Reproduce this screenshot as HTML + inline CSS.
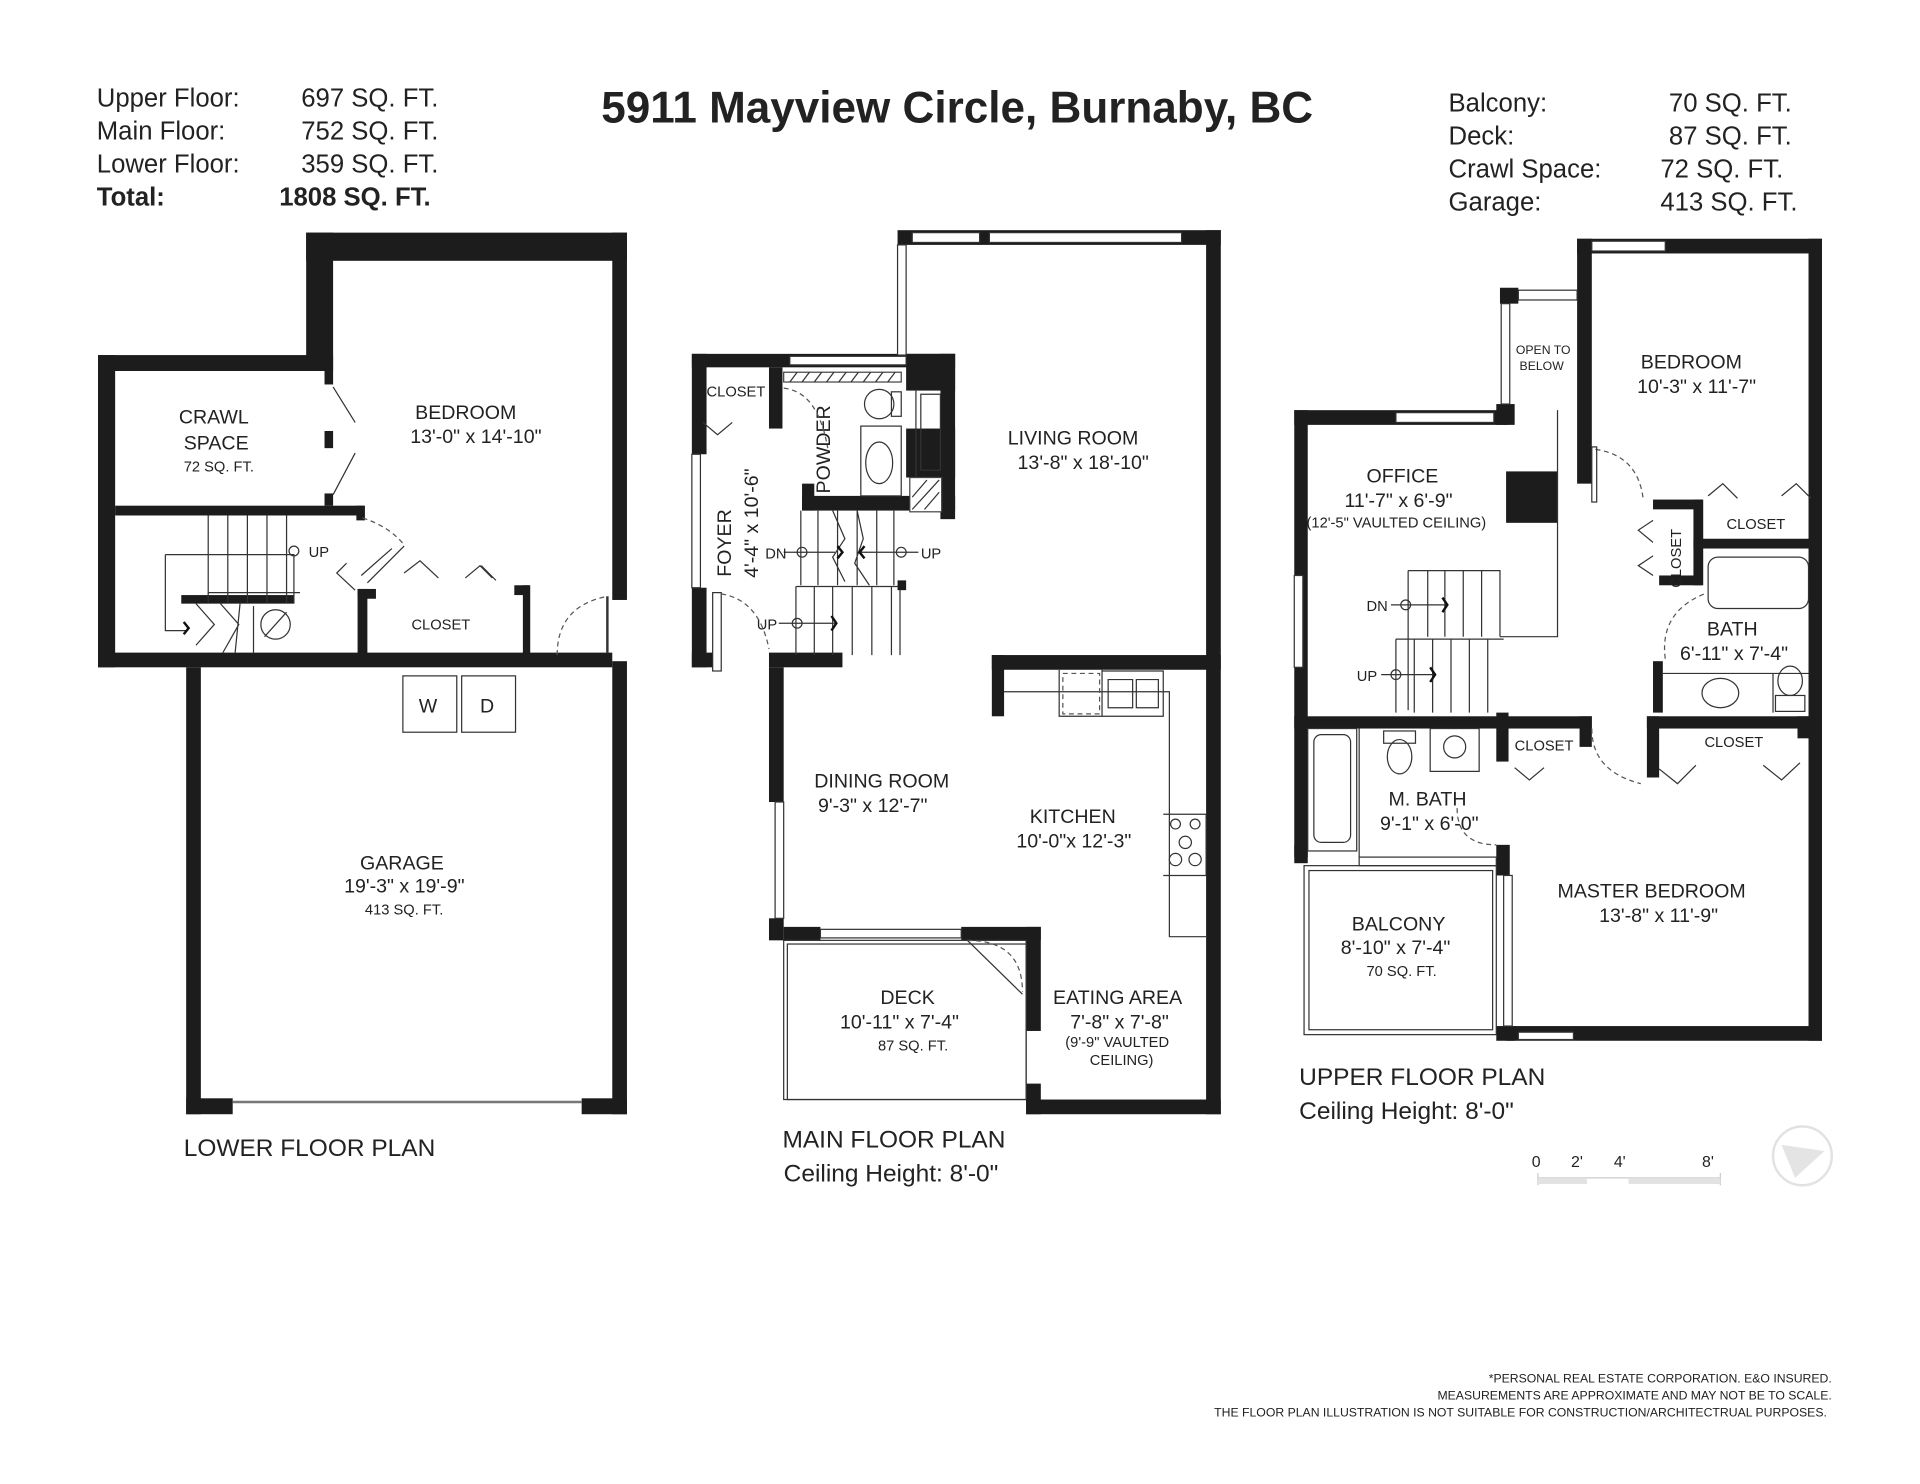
<!DOCTYPE html>
<html><head><meta charset="utf-8"><style>
html,body{margin:0;padding:0;background:#fff;}
svg{display:block}
text{font-family:"Liberation Sans",sans-serif;fill:#222;}
.t{font-size:16px}
.s{font-size:12px}
.k{fill:#1c1c1c}
.thin{fill:none;stroke:#333;stroke-width:1}
.win{fill:#fff;stroke:#333;stroke-width:1}
.dash{fill:none;stroke:#555;stroke-width:1;stroke-dasharray:4 3}
</style></head><body>
<svg width="1920" height="1484" viewBox="0 0 1568 1212" xmlns="http://www.w3.org/2000/svg">
<rect width="1568" height="1212" fill="#fff"/>
<g font-size="21">
<text x="79" y="87">Upper Floor:</text><text x="246" y="87">697 SQ. FT.</text>
<text x="79" y="114">Main Floor:</text><text x="246" y="114">752 SQ. FT.</text>
<text x="79" y="141">Lower Floor:</text><text x="246" y="141">359 SQ. FT.</text>
<text x="79" y="168" font-weight="bold">Total:</text><text x="228" y="168" font-weight="bold">1808 SQ. FT.</text>
<text x="1183" y="91">Balcony:</text><text x="1363" y="91">70 SQ. FT.</text>
<text x="1183" y="118">Deck:</text><text x="1363" y="118">87 SQ. FT.</text>
<text x="1183" y="145">Crawl Space:</text><text x="1356" y="145">72 SQ. FT.</text>
<text x="1183" y="172">Garage:</text><text x="1356" y="172">413 SQ. FT.</text>
</g>
<text x="491" y="100" font-size="36" font-weight="bold">5911 Mayview Circle, Burnaby, BC</text>

<!-- ===== LOWER FLOOR ===== -->
<g class="k">
<rect x="250" y="190" width="262" height="23"/>
<rect x="250" y="190" width="22" height="112"/>
<rect x="80" y="290" width="192" height="13"/>
<rect x="80" y="290" width="14" height="255"/>
<rect x="80" y="533" width="420" height="12"/>
<rect x="500" y="190" width="12" height="300"/>
<rect x="500" y="540" width="12" height="370"/>
<rect x="152" y="545" width="12" height="365"/>
<rect x="152" y="897" width="38" height="13"/>
<rect x="475" y="897" width="37" height="13"/>
<rect x="94" y="413" width="203" height="8"/>
<rect x="291" y="413" width="7" height="12"/>
<rect x="292" y="481" width="8" height="55"/>
<rect x="292" y="481" width="15" height="8"/>
<rect x="420" y="478" width="12" height="8"/>
<rect x="427" y="478" width="6" height="58"/>
<rect x="148" y="486" width="92" height="7"/>
<rect x="265" y="352" width="7" height="14"/>
<rect x="265" y="302" width="7" height="12"/>
<rect x="265" y="403" width="7" height="10"/>
</g>
<line x1="190" y1="900" x2="475" y2="900" stroke="#777" stroke-width="2"/>
<path class="thin" d="M272 316 L290 345 M272 404 L290 370 M170 421 V493 M186 421 V493 M202 421 V493 M218 421 V493 M234 421 V493 M170 484 H245 M135 453 H240 V493 M135 453 V515 H152"/>
<circle cx="240" cy="450" r="4" class="thin"/><text x="252" y="455" class="s">UP</text>
<path d="M150 508 l4 5 -4 5" fill="none" stroke="#111" stroke-width="2"/>
<path class="thin" d="M160 493 L175 510 160 527 M180 493 L195 510 182 533 M196 493 L192 533 M207 495 V533"/>
<circle cx="225" cy="510" r="12" class="thin"/><line x1="216" y1="520" x2="234" y2="500" stroke="#333"/>
<path class="thin" d="M295 470 L320 448 M300 476 L330 446 M290 482 L275 468 L283 460 M330 468 L343 458 L358 472 M380 472 L392 462 L402 472 M393 462 L405 474"/>
<path class="dash" d="M296 423 Q318 430 330 445 M455 535 Q455 495 496 487"/>
<line x1="496" y1="487" x2="496" y2="533" stroke="#333" stroke-width="2"/>
<rect x="329" y="552" width="44" height="46" class="thin"/><rect x="377" y="552" width="44" height="46" class="thin"/>
<text x="342" y="582" class="t">W</text><text x="392" y="582" class="t">D</text>
<text x="146" y="346" class="t">CRAWL</text><text x="150" y="367" class="t">SPACE</text><text x="150" y="385" class="s">72 SQ. FT.</text>
<text x="339" y="342" class="t">BEDROOM</text><text x="335" y="362" class="t">13'-0" x 14'-10"</text>
<text x="336" y="514" class="s">CLOSET</text>
<text x="294" y="710" class="t">GARAGE</text><text x="281" y="729" class="t">19'-3" x 19'-9"</text><text x="298" y="747" class="s">413 SQ. FT.</text>
<text x="150" y="944" font-size="20">LOWER FLOOR PLAN</text>

<!-- ===== MAIN FLOOR ===== -->
<g class="k">
<rect x="733" y="188" width="264" height="12"/>
<rect x="985" y="188" width="12" height="722"/>
<rect x="565" y="289" width="215" height="11"/>
<rect x="565" y="289" width="12" height="82"/>
<rect x="565" y="480" width="12" height="65"/>
<rect x="565" y="533" width="17" height="12"/>
<rect x="628" y="533" width="60" height="12"/>
<rect x="628" y="545" width="12" height="110"/>
<rect x="628" y="750" width="12" height="18"/>
<rect x="628" y="300" width="11" height="50"/>
<rect x="768" y="289" width="12" height="135"/>
<rect x="740" y="289" width="40" height="30"/>
<rect x="740" y="350" width="40" height="40"/>
<rect x="655" y="405" width="125" height="12"/>
<rect x="655" y="395" width="10" height="22"/>
<rect x="810" y="535" width="187" height="12"/>
<rect x="810" y="535" width="10" height="50"/>
<rect x="640" y="757" width="30" height="11"/>
<rect x="785" y="757" width="65" height="11"/>
<rect x="838" y="757" width="12" height="85"/>
<rect x="838" y="898" width="159" height="12"/>
<rect x="838" y="885" width="12" height="25"/>
</g>
<rect x="745" y="190" width="55" height="8" class="win"/><rect x="808" y="190" width="157" height="8" class="win"/>
<rect x="733" y="200" width="7" height="90" class="win"/>
<rect x="645" y="291" width="95" height="7" class="win"/>
<rect x="565" y="371" width="7" height="109" class="win"/>
<rect x="633" y="655" width="7" height="95" class="win"/>
<rect x="670" y="759" width="115" height="7" class="win"/>
<rect x="640" y="304" width="96" height="8" fill="#fff" stroke="#444" stroke-width="1"/>
<path class="thin" d="M645 312 l6 -8 M655 312 l6 -8 M665 312 l6 -8 M675 312 l6 -8 M685 312 l6 -8 M695 312 l6 -8 M705 312 l6 -8 M715 312 l6 -8 M725 312 l6 -8"/>
<rect x="743" y="390" width="26" height="28" fill="#fff" stroke="#444"/>
<path class="thin" d="M745 416 l22 -24 M745 406 l12 -14 M755 416 l12 -14"/>
<ellipse cx="718" cy="330" rx="12" ry="12" class="thin"/><rect x="728" y="320" width="8" height="20" class="thin"/>
<rect x="703" y="348" width="33" height="57" class="thin"/><ellipse cx="718" cy="378" rx="11" ry="17" class="thin"/>
<path class="thin" d="M748 318 V390 M752 322 H768 V384 H752 Z"/>
<path class="thin" d="M574 345 l12 10 12 -10"/>
<text x="577" y="324" class="s">CLOSET</text>
<text transform="translate(678,403) rotate(-90)" class="t">POWDER</text>
<text transform="translate(597,471) rotate(-90)" class="t">FOYER</text>
<text transform="translate(619,472) rotate(-90)" class="t">4'-4" x 10'-6"</text>
<path class="thin" d="M654 417 V478 M668 417 V478 M684 417 V478 M700 417 V478 M716 417 V478 M730 417 V478 M650 479 H735 M650 479 V535 M665 479 V535 M680 479 V535 M696 479 V535 M712 479 V535 M728 479 V535 M735 479 V535 M680 417 L690 440 680 455 690 475 M700 417 L705 440 698 460 710 478"/>
<rect x="733" y="474" width="7" height="8" class="k"/>
<circle cx="655" cy="451" r="4" class="thin"/><line x1="640" y1="451" x2="682" y2="451" stroke="#333"/>
<circle cx="736" cy="451" r="4" class="thin"/><line x1="700" y1="451" x2="750" y2="451" stroke="#333"/>
<text x="625" y="456" class="s">DN</text><text x="752" y="456" class="s">UP</text>
<circle cx="651" cy="509" r="4" class="thin"/><line x1="636" y1="509" x2="682" y2="509" stroke="#333"/>
<text x="618" y="514" class="s">UP</text>
<path d="M679 503 l4 6 -4 6 M706 446 l-4 5 4 5 M684 446 l4 5 -4 5" fill="none" stroke="#111" stroke-width="2"/>
<rect x="582" y="484" width="7" height="64" class="thin"/>
<path class="dash" d="M589 485 Q620 490 628 530 M640 317 Q668 320 676 366"/>
<text x="823" y="363" class="t">LIVING ROOM</text><text x="831" y="383" class="t">13'-8" x 18'-10"</text>
<path class="thin" d="M820 565 H955 V765 H985 M865 547 V585 H900 V547 M900 548 H950 V585 H900 M905 555 H925 V578 H905 Z M928 555 H946 V578 H928 Z M950 665 H985 V715 H950"/>
<path class="dash" d="M868 550 H898 V583 H868 Z"/>
<circle cx="960" cy="673" r="4" class="thin"/><circle cx="976" cy="673" r="4" class="thin"/><circle cx="960" cy="702" r="5" class="thin"/><circle cx="976" cy="702" r="5" class="thin"/><circle cx="968" cy="688" r="5" class="thin"/>
<text x="665" y="643" class="t">DINING ROOM</text><text x="668" y="663" class="t">9'-3" x 12'-7"</text>
<text x="841" y="672" class="t">KITCHEN</text><text x="830" y="692" class="t">10'-0"x 12'-3"</text>
<rect x="640" y="768" width="198" height="130" class="thin"/>
<rect x="643" y="771" width="195" height="127" class="thin"/>
<path class="dash" d="M790 768 Q835 768 835 810"/><line x1="790" y1="768" x2="835" y2="812" stroke="#333"/>
<text x="719" y="820" class="t">DECK</text><text x="686" y="840" class="t">10'-11"  x 7'-4"</text><text x="717" y="858" class="s">87 SQ. FT.</text>
<text x="860" y="820" class="t">EATING AREA</text><text x="874" y="840" class="t">7'-8" x 7'-8"</text>
<text x="870" y="855" class="s">(9'-9" VAULTED</text><text x="890" y="870" class="s">CEILING)</text>
<text x="639" y="937" font-size="20">MAIN FLOOR PLAN</text>
<text x="640" y="965" font-size="20">Ceiling Height: 8'-0"</text>

<!-- ===== UPPER FLOOR ===== -->
<g class="k">
<rect x="1288" y="195" width="200" height="12"/>
<rect x="1288" y="195" width="12" height="200"/>
<rect x="1477" y="195" width="11" height="655"/>
<rect x="1057" y="335" width="175" height="12"/>
<rect x="1225" y="235" width="15" height="13"/>
<rect x="1222" y="330" width="15" height="17"/>
<rect x="1057" y="335" width="11" height="365"/>
<rect x="1230" y="385" width="42" height="42"/>
<rect x="1350" y="408" width="40" height="8"/>
<rect x="1383" y="408" width="8" height="70"/>
<rect x="1355" y="470" width="35" height="8"/>
<rect x="1383" y="440" width="105" height="8"/>
<rect x="1350" y="540" width="8" height="42"/>
<rect x="1057" y="585" width="243" height="10"/>
<rect x="1290" y="585" width="10" height="25"/>
<rect x="1345" y="585" width="133" height="10"/>
<rect x="1345" y="585" width="10" height="50"/>
<rect x="1468" y="585" width="20" height="18"/>
<rect x="1222" y="582" width="10" height="40"/>
<rect x="1222" y="690" width="11" height="25"/>
<rect x="1230" y="838" width="258" height="12"/>
<rect x="1222" y="838" width="15" height="12"/>
<rect x="1057" y="690" width="11" height="15"/>
</g>
<rect x="1300" y="197" width="60" height="8" class="win"/>
<rect x="1140" y="337" width="80" height="8" class="win"/>
<rect x="1240" y="237" width="48" height="8" class="win"/>
<rect x="1226" y="248" width="7" height="82" class="win"/>
<rect x="1057" y="470" width="7" height="75" class="win"/>
<rect x="1110" y="700" width="112" height="7" class="win"/>
<rect x="1228" y="715" width="7" height="123" class="win"/>
<rect x="1240" y="843" width="45" height="6" class="win"/>
<text x="1238" y="289" font-size="10">OPEN TO</text><text x="1241" y="302" font-size="10">BELOW</text>
<path class="thin" d="M1272 335 V520 H1225 M1150 466 H1225 V520 M1150 466 V580 M1166 466 V520 M1180 466 V520 M1195 466 V520 M1210 466 V520 M1140 522 H1228 M1140 522 V582 M1155 522 V582 M1170 522 V582 M1185 522 V582 M1200 522 V582 M1215 522 V582"/>
<circle cx="1148" cy="494" r="4" class="thin"/><line x1="1136" y1="494" x2="1182" y2="494" stroke="#333"/><text x="1116" y="499" class="s">DN</text>
<circle cx="1140" cy="551" r="4" class="thin"/><line x1="1128" y1="551" x2="1172" y2="551" stroke="#333"/><text x="1108" y="556" class="s">UP</text>
<path d="M1178 488 l4 6 -4 6 M1168 545 l4 6 -4 6" fill="none" stroke="#111" stroke-width="2"/>
<text x="1116" y="394" class="t">OFFICE</text><text x="1098" y="414" class="t">11'-7" x 6'-9"</text><text x="1067" y="431" class="s">(12'-5" VAULTED CEILING)</text>
<text x="1340" y="301" class="t">BEDROOM</text><text x="1337" y="321" class="t">10'-3" x 11'-7"</text>
<path class="dash" d="M1303 367 Q1338 372 1342 408"/><rect x="1300" y="365" width="4" height="45" class="thin"/>
<path class="thin" d="M1395 405 l12 -10 12 12 M1455 405 l12 -10 12 12 M1350 425 l-12 8 12 10 M1350 470 l-12 -8 12 -8"/>
<text x="1410" y="432" class="s">CLOSET</text>
<text transform="translate(1373,480) rotate(-90)" class="s">CLOSET</text>
<rect x="1395" y="455" width="82" height="42" rx="8" class="thin"/>
<text x="1394" y="519" class="t">BATH</text><text x="1372" y="539" class="t">6'-11" x 7'-4"</text>
<path class="dash" d="M1360 538 Q1355 500 1392 485"/>
<path class="thin" d="M1358 550 H1448 V582 M1448 550 H1477"/><ellipse cx="1405" cy="566" rx="15" ry="12" class="thin"/><ellipse cx="1462" cy="556" rx="10" ry="12" class="thin"/><rect x="1450" y="568" width="24" height="13" class="thin"/>
<rect x="1068" y="595" width="40" height="100" class="thin"/><rect x="1073" y="600" width="30" height="88" rx="6" class="thin"/>
<ellipse cx="1143" cy="618" rx="10" ry="14" class="thin"/><rect x="1130" y="597" width="26" height="10" class="thin"/>
<rect x="1168" y="595" width="40" height="35" class="thin"/><circle cx="1188" cy="610" r="9" class="thin"/>
<path class="thin" d="M1110 595 V700 M1237 627 l12 10 12 -10 M1355 628 l15 12 15 -15 M1440 625 l15 12 15 -14"/>
<path class="dash" d="M1300 595 Q1300 630 1340 640 M1190 660 Q1190 690 1222 690"/>
<text x="1237" y="613" class="s">CLOSET</text><text x="1392" y="610" class="s">CLOSET</text>
<text x="1134" y="658" class="t">M. BATH</text><text x="1127" y="678" class="t">9'-1" x 6'-0"</text>
<text x="1272" y="733" class="t">MASTER BEDROOM</text><text x="1306" y="753" class="t">13'-8" x 11'-9"</text>
<rect x="1065" y="707" width="157" height="138" class="thin"/><rect x="1069" y="711" width="150" height="130" class="thin"/>
<text x="1104" y="760" class="t">BALCONY</text><text x="1095" y="779" class="t">8'-10" x 7'-4"</text><text x="1116" y="797" class="s">70 SQ. FT.</text>
<text x="1061" y="886" font-size="20">UPPER FLOOR PLAN</text>
<text x="1061" y="914" font-size="20">Ceiling Height: 8'-0"</text>
<g font-size="13">
<text x="1251" y="953" fill="#ccc">0</text><text x="1283" y="953" fill="#ccc">2'</text><text x="1318" y="953" fill="#ccc">4'</text><text x="1390" y="953" fill="#ccc">8'</text>
</g>
<path d="M1256 962 H1405 M1256 958 V968 M1405 958 V968" stroke="#ccc" fill="none"/>
<rect x="1256" y="962" width="40" height="5" fill="#e2e2e2"/><rect x="1330" y="962" width="75" height="5" fill="#e2e2e2"/>
<circle cx="1472" cy="944" r="24" fill="none" stroke="#e2e2e2" stroke-width="2"/>
<path d="M1455 935 L1490 940 L1466 962 Z" fill="#e4e4e4"/>
<g font-size="10" fill="#333" text-anchor="end">
<text x="1496" y="1129">*PERSONAL REAL ESTATE CORPORATION. E&amp;O INSURED.</text>
<text x="1496" y="1143">MEASUREMENTS ARE APPROXIMATE AND MAY NOT BE TO SCALE.</text>
<text x="1492" y="1157">THE FLOOR PLAN ILLUSTRATION IS NOT SUITABLE FOR CONSTRUCTION/ARCHITECTRUAL PURPOSES.</text>
</g>
</svg>
</body></html>
